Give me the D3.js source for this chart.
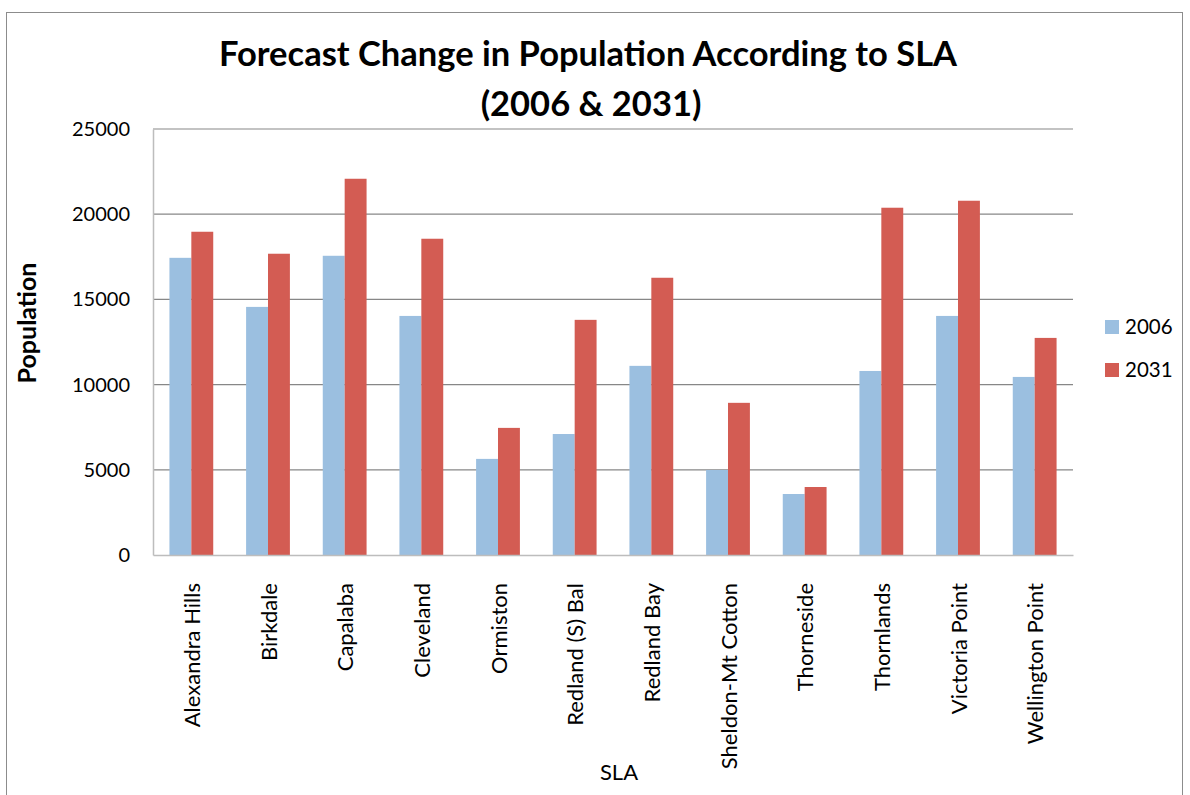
<!DOCTYPE html>
<html><head><meta charset="utf-8">
<script src="https://cdn.jsdelivr.net/npm/d3@7"></script>
<style>body{margin:0;background:#fff;} svg{display:block;} text{font-family:Lato, "Open Sans", sans-serif;fill:#000;}</style>
</head><body>
<svg id="c" width="1190" height="795"></svg>
<script>
const categories = ["Alexandra Hills","Birkdale","Capalaba","Cleveland","Ormiston","Redland (S) Bal","Redland Bay","Sheldon-Mt Cotton","Thorneside","Thornlands","Victoria Point","Wellington Point"];
const seriesNames = ["2006","2031"];
const values2006 = [17440,14560,17560,14030,5640,7100,11100,4990,3580,10800,14030,10450];
const values2031 = [18970,17680,22080,18560,7460,13800,16270,8930,3990,20380,20790,12740];
const yTicks = [0,5000,10000,15000,20000,25000];
const titleLines = ["Forecast Change in Population According to SLA","(2006 & 2031)"];
const colors = ["#9bbfe0","#d35c53"];

const svg = d3.select("#c");
const m = {left:153, right:1073, top:129, bottom:555};

svg.append("rect").attr("x",6.5).attr("y",12.5).attr("width",1176).attr("height",800)
  .attr("fill","#fff").attr("stroke","#8c8c8c").attr("stroke-width",1);

const x0 = d3.scaleBand().domain(categories).range([m.left,m.right]).paddingInner(0.4286).paddingOuter(0.2143);
const x1 = d3.scaleBand().domain(seriesNames).range([0,x0.bandwidth()]);
const y = d3.scaleLinear().domain([0,25000]).range([m.bottom,m.top]);

// gridlines
svg.append("g").selectAll("line").data(yTicks.filter(d=>d>0)).join("line")
  .attr("x1",m.left).attr("x2",m.right).attr("y1",d=>y(d)).attr("y2",d=>y(d))
  .attr("stroke","#878787").attr("stroke-width",1.2);

const data = categories.map((c,i)=>({c, v:[values2006[i],values2031[i]]}));
const g = svg.append("g");
data.forEach(d=>{
  seriesNames.forEach((s,j)=>{
    g.append("rect").attr("x",x0(d.c)+x1(s)).attr("width",x1.bandwidth())
     .attr("y",y(d.v[j])).attr("height",y(0)-y(d.v[j])).attr("fill",colors[j]);
  });
});

// axes
const yAxis = d3.axisLeft(y).tickValues(yTicks).tickSize(0).tickPadding(23).tickFormat(d3.format("d"));
const ya = svg.append("g").attr("transform",`translate(${m.left},0)`).call(yAxis);
ya.select(".domain").attr("stroke","#bdbdbd").attr("stroke-width",1.5);
ya.selectAll("text").attr("font-size",20).style("font-family","Lato");

const xAxis = d3.axisBottom(x0).tickSize(0).tickPadding(0);
const xa = svg.append("g").attr("transform",`translate(0,${m.bottom})`).call(xAxis);
xa.select(".domain").attr("stroke","#bdbdbd").attr("stroke-width",1.5);
xa.selectAll("text").attr("font-size",22).style("font-family","Lato")
  .attr("transform","rotate(-90)").attr("text-anchor","end").attr("dy","0.35em")
  .attr("x",-28).attr("y",1);

// titles
svg.append("text").attr("x",588).attr("y",66).attr("text-anchor","middle")
  .attr("font-size",34.5).attr("font-weight","bold").text(titleLines[0]);
svg.append("text").attr("x",591).attr("y",116).attr("text-anchor","middle")
  .attr("font-size",34.5).attr("font-weight","bold").text(titleLines[1]);

svg.append("text").attr("transform","translate(36,323) rotate(-90)").attr("text-anchor","middle")
  .attr("font-size",25).attr("font-weight","bold").text("Population");
svg.append("text").attr("x",619).attr("y",780).attr("text-anchor","middle")
  .attr("font-size",22).text("SLA");

// legend
const lg = svg.append("g");
seriesNames.forEach((s,i)=>{
  const cy = 327 + i*43;
  lg.append("rect").attr("x",1105).attr("y",cy-7).attr("width",14).attr("height",14).attr("fill",colors[i]);
  lg.append("text").attr("x",1125).attr("y",cy).attr("dy","0.35em").attr("font-size",20.5).text(s);
});
</script>
</body></html>
